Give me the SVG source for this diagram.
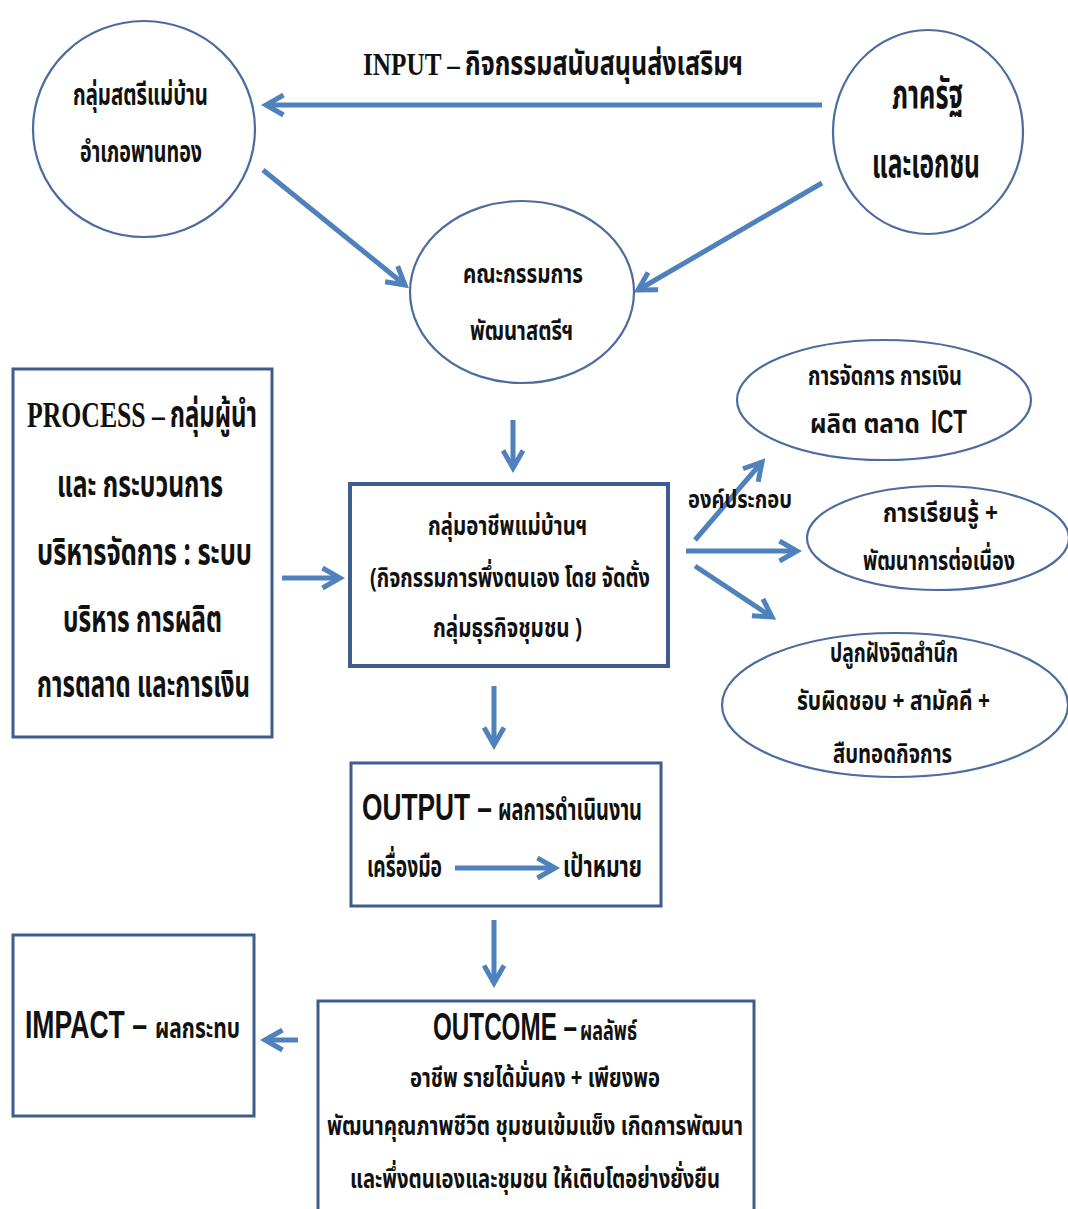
<svg xmlns="http://www.w3.org/2000/svg" width="1068" height="1209" viewBox="0 0 1068 1209">
<style>
.bg{fill:#fff}
.circ{fill:#fff;stroke:#4C6C9E;stroke-width:2.2}
.box{fill:#fff;stroke:#3D5D8C;stroke-width:3}
.conn{fill:none;stroke:#4F81BD;stroke-width:5}
.th{font-family:"Noto Sans Thai","Noto Sans","DejaVu Sans",sans-serif;font-weight:bold;fill:#111}
.sf{font-family:"Liberation Serif",serif;font-weight:bold;fill:#111}
.sn{font-family:"Liberation Sans Narrow","Liberation Sans",sans-serif;font-weight:bold;fill:#111}
</style>
<defs>
<marker id="ah" viewBox="0 0 10 10" refX="8" refY="5" markerWidth="5" markerHeight="5" orient="auto" markerUnits="strokeWidth">
<path d="M1,1 L8,5 L1,9" fill="none" stroke="#4F81BD" stroke-width="2"/>
</marker>
</defs>
<rect class="bg" x="0" y="0" width="1068" height="1209"/>

<g id="connectors">
<path class="conn" marker-end="url(#ah)" d="M822,105 L266,105"/>
<path class="conn" marker-end="url(#ah)" d="M263,170 L405,285"/>
<path class="conn" marker-end="url(#ah)" d="M822,183 L638,290"/>
<path class="conn" marker-end="url(#ah)" d="M513,420 L513,468"/>
<path class="conn" marker-end="url(#ah)" d="M282,578 L340,578"/>
<path class="conn" marker-end="url(#ah)" d="M695,540 L762,462"/>
<path class="conn" marker-end="url(#ah)" d="M686,551 L797,551"/>
<path class="conn" marker-end="url(#ah)" d="M695,566 L772,617"/>
<path class="conn" marker-end="url(#ah)" d="M494,686 L494,745"/>
<path class="conn" marker-end="url(#ah)" d="M494,920 L494,983"/>
<path class="conn" marker-end="url(#ah)" d="M298,1040 L265,1040"/>
<text class="th" transform="translate(0,508) scale(1,1.35)" x="688" font-size="17.8" textLength="104" lengthAdjust="spacingAndGlyphs">องค์ประกอบ</text>
</g>

<g id="title">
<text transform="translate(0,75) scale(1,1.35)"><tspan class="sf" x="363" font-size="23" textLength="97" lengthAdjust="spacingAndGlyphs">INPUT –</tspan><tspan class="th" x="465" font-size="25.2" textLength="278" lengthAdjust="spacingAndGlyphs">กิจกรรมสนับสนุนส่งเสริมฯ</tspan></text>
</g>

<g id="women-group">
<ellipse class="circ" cx="144" cy="129" rx="111" ry="108"/>
<text class="th" transform="translate(0,105) scale(1,1.35)" x="73" font-size="22.2" textLength="135" lengthAdjust="spacingAndGlyphs">กลุ่มสตรีแม่บ้าน</text>
<text class="th" transform="translate(0,162) scale(1,1.35)" x="80" font-size="22.2" textLength="122" lengthAdjust="spacingAndGlyphs">อำเภอพานทอง</text>
</g>

<g id="gov-private">
<ellipse class="circ" cx="928" cy="132" rx="95" ry="102"/>
<text class="th" transform="translate(0,108) scale(1,1.35)" x="892" font-size="29.6" textLength="71" lengthAdjust="spacingAndGlyphs">ภาครัฐ</text>
<text class="th" transform="translate(0,177) scale(1,1.35)" x="872" font-size="29.6" textLength="108" lengthAdjust="spacingAndGlyphs">และเอกชน</text>
</g>

<g id="committee">
<ellipse class="circ" cx="522" cy="292" rx="112" ry="91"/>
<text class="th" transform="translate(0,283) scale(1,1.35)" x="463" font-size="20" textLength="120" lengthAdjust="spacingAndGlyphs">คณะกรรมการ</text>
<text class="th" transform="translate(0,340) scale(1,1.35)" x="470" font-size="20" textLength="103" lengthAdjust="spacingAndGlyphs">พัฒนาสตรีฯ</text>
</g>

<g id="process">
<rect class="box" x="13" y="369" width="259" height="368"/>
<text transform="translate(0,427) scale(1,1.35)"><tspan class="sf" x="27" font-size="25.9" textLength="138" lengthAdjust="spacingAndGlyphs">PROCESS –</tspan><tspan class="th" x="170" font-size="28.1" textLength="87" lengthAdjust="spacingAndGlyphs">กลุ่มผู้นำ</tspan></text>
<text class="th" transform="translate(0,497) scale(1,1.35)" x="57" font-size="28.1" textLength="166" lengthAdjust="spacingAndGlyphs">และ กระบวนการ</text>
<text class="th" transform="translate(0,565) scale(1,1.35)" x="37" font-size="28.1" textLength="215" lengthAdjust="spacingAndGlyphs">บริหารจัดการ : ระบบ</text>
<text class="th" transform="translate(0,632) scale(1,1.35)" x="63" font-size="28.1" textLength="159" lengthAdjust="spacingAndGlyphs">บริหาร การผลิต</text>
<text class="th" transform="translate(0,697) scale(1,1.35)" x="37" font-size="28.1" textLength="213" lengthAdjust="spacingAndGlyphs">การตลาด และการเงิน</text>
</g>

<g id="occupation-group">
<rect x="350" y="484" width="318" height="182" fill="#fff" stroke="#3D5D8C" stroke-width="4"/>
<text class="th" transform="translate(0,535) scale(1,1.35)" x="428" font-size="20" textLength="159" lengthAdjust="spacingAndGlyphs">กลุ่มอาชีพแม่บ้านฯ</text>
<text class="th" transform="translate(0,587) scale(1,1.35)" x="370" font-size="20" textLength="280" lengthAdjust="spacingAndGlyphs">(กิจกรรมการพึ่งตนเอง โดย จัดตั้ง</text>
<text class="th" transform="translate(0,637) scale(1,1.35)" x="433" font-size="20" textLength="149" lengthAdjust="spacingAndGlyphs">กลุ่มธุรกิจชุมชน )</text>
</g>

<g id="comp-management">
<ellipse class="circ" cx="884" cy="400" rx="147" ry="60"/>
<text class="th" transform="translate(0,385) scale(1,1.35)" x="808" font-size="20" textLength="154" lengthAdjust="spacingAndGlyphs">การจัดการ การเงิน</text>
<text transform="translate(0,433) scale(1,1.35)"><tspan class="th" x="810" font-size="20" textLength="110" lengthAdjust="spacingAndGlyphs">ผลิต   ตลาด</tspan><tspan class="sn" x="931" font-size="25.2" textLength="36" lengthAdjust="spacingAndGlyphs">ICT</tspan></text>
</g>

<g id="comp-learning">
<ellipse class="circ" cx="938" cy="538" rx="131" ry="52"/>
<text class="th" transform="translate(0,522) scale(1,1.35)" x="883" font-size="20" textLength="115" lengthAdjust="spacingAndGlyphs">การเรียนรู้  +</text>
<text class="th" transform="translate(0,570) scale(1,1.35)" x="863" font-size="20" textLength="152" lengthAdjust="spacingAndGlyphs">พัฒนาการต่อเนื่อง</text>
</g>

<g id="comp-awareness">
<ellipse class="circ" cx="895" cy="705" rx="173" ry="72"/>
<text class="th" transform="translate(0,662) scale(1,1.35)" x="830" font-size="20" textLength="128" lengthAdjust="spacingAndGlyphs">ปลูกฝังจิตสำนึก</text>
<text class="th" transform="translate(0,710) scale(1,1.35)" x="797" font-size="20" textLength="193" lengthAdjust="spacingAndGlyphs">รับผิดชอบ + สามัคคี +</text>
<text class="th" transform="translate(0,763) scale(1,1.35)" x="833" font-size="20" textLength="119" lengthAdjust="spacingAndGlyphs">สืบทอดกิจการ</text>
</g>

<g id="output">
<rect class="box" x="351" y="763" width="310" height="143"/>
<text transform="translate(0,820) scale(1,1.35)"><tspan class="sn" x="362" font-size="27.4" textLength="130" lengthAdjust="spacingAndGlyphs">OUTPUT –</tspan><tspan class="th" x="498" font-size="22.2" textLength="144" lengthAdjust="spacingAndGlyphs">ผลการดำเนินงาน</tspan></text>
<text transform="translate(0,877) scale(1,1.35)"><tspan class="th" x="367" font-size="22.2" textLength="75" lengthAdjust="spacingAndGlyphs">เครื่องมือ</tspan><tspan class="th" x="563" font-size="22.2" textLength="79" lengthAdjust="spacingAndGlyphs">เป้าหมาย</tspan></text>
<path class="conn" marker-end="url(#ah)" d="M455,868 L555,868"/>
</g>

<g id="impact">
<rect class="box" x="13" y="935" width="241" height="181"/>
<text transform="translate(0,1038) scale(1,1.35)"><tspan class="sn" x="25" font-size="28.1" textLength="122" lengthAdjust="spacingAndGlyphs">IMPACT –</tspan><tspan class="th" x="155" font-size="20.7" textLength="85" lengthAdjust="spacingAndGlyphs">ผลกระทบ</tspan></text>
</g>

<g id="outcome">
<rect class="box" x="318" y="1001" width="436" height="220"/>
<text transform="translate(0,1040) scale(1,1.5)"><tspan class="sn" x="433" font-size="25.3" textLength="144" lengthAdjust="spacingAndGlyphs">OUTCOME –</tspan><tspan class="th" x="580" font-size="18" textLength="57" lengthAdjust="spacingAndGlyphs">ผลลัพธ์</tspan></text>
<text class="th" transform="translate(0,1087) scale(1,1.35)" x="410" font-size="20" textLength="250" lengthAdjust="spacingAndGlyphs">อาชีพ รายได้มั่นคง + เพียงพอ</text>
<text class="th" transform="translate(0,1135) scale(1,1.35)" x="327" font-size="20" textLength="416" lengthAdjust="spacingAndGlyphs">พัฒนาคุณภาพชีวิต ชุมชนเข้มแข็ง   เกิดการพัฒนา</text>
<text class="th" transform="translate(0,1188) scale(1,1.35)" x="350" font-size="20" textLength="370" lengthAdjust="spacingAndGlyphs">และพึ่งตนเองและชุมชน ให้เติบโตอย่างยั่งยืน</text>
</g>
</svg>
